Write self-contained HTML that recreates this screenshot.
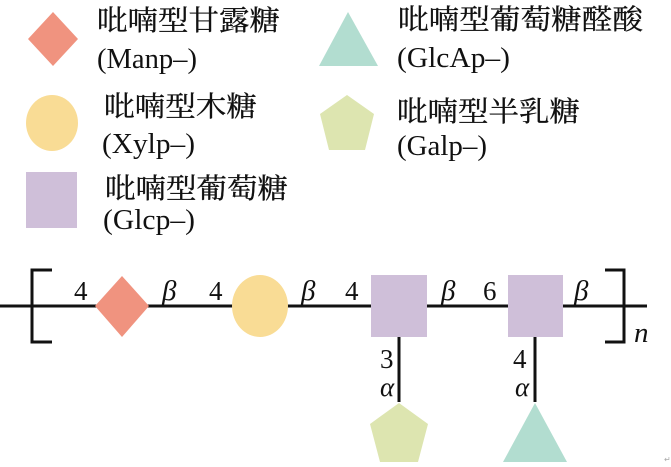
<!DOCTYPE html>
<html><head><meta charset="utf-8"><style>
html,body{margin:0;padding:0;background:#fff;}
svg{display:block;}
.cj{font-family:"Liberation Serif","Noto Serif CJK SC",serif;font-size:28px;fill:#111;stroke:#111;stroke-width:0.3px;}
.lt{font-family:"Liberation Serif",serif;font-size:28px;fill:#111;}
.lb{font-family:"Liberation Serif",serif;font-size:27px;fill:#111;}
.it{font-family:"Liberation Serif",serif;font-style:italic;font-size:29px;fill:#111;}
.al{font-family:"Liberation Serif",serif;font-style:italic;font-size:27px;fill:#111;}
</style></head><body>
<svg width="671" height="467" viewBox="0 0 671 467" xmlns="http://www.w3.org/2000/svg">
<!-- Legend shapes -->
<polygon points="53,12 78,39 53,66 28,39" fill="#f0937f"/>
<ellipse cx="52" cy="123" rx="26" ry="28" fill="#f9dc95"/>
<rect x="26" y="172" width="51" height="56" fill="#cfbfd9"/>
<polygon points="348,12 378,66 319,66" fill="#b2ddd0"/>
<polygon points="347,95 374,114 365,150 329,150 320,114" fill="#dde5b0"/>
<!-- Legend text -->
<text class="cj" x="97" y="30" textLength="183" lengthAdjust="spacingAndGlyphs">吡喃型甘露糖</text>
<text class="lt" x="97" y="68" textLength="100" lengthAdjust="spacingAndGlyphs">(Manp–)</text>
<text class="cj" x="104" y="116" textLength="153" lengthAdjust="spacingAndGlyphs">吡喃型木糖</text>
<text class="lt" x="102" y="153" textLength="93" lengthAdjust="spacingAndGlyphs">(Xylp–)</text>
<text class="cj" x="105" y="198" textLength="183" lengthAdjust="spacingAndGlyphs">吡喃型葡萄糖</text>
<text class="lt" x="103" y="229" textLength="92" lengthAdjust="spacingAndGlyphs">(Glcp–)</text>
<text class="cj" x="398" y="29" textLength="245" lengthAdjust="spacingAndGlyphs">吡喃型葡萄糖醛酸</text>
<text class="lt" x="397" y="67" textLength="113" lengthAdjust="spacingAndGlyphs">(GlcAp–)</text>
<text class="cj" x="397" y="121" textLength="183" lengthAdjust="spacingAndGlyphs">吡喃型半乳糖</text>
<text class="lt" x="397" y="155" textLength="90" lengthAdjust="spacingAndGlyphs">(Galp–)</text>
<!-- Main chain -->
<line x1="0" y1="306" x2="647" y2="306" stroke="#111" stroke-width="3"/>
<path d="M52,270 H32 V342 H52" fill="none" stroke="#111" stroke-width="3"/>
<path d="M605,270 H624 V342 H605" fill="none" stroke="#111" stroke-width="3"/>
<line x1="399" y1="337" x2="399" y2="402" stroke="#111" stroke-width="3"/>
<line x1="535" y1="337" x2="535" y2="402" stroke="#111" stroke-width="3"/>
<polygon points="122,276 149,306 122,337 95,306" fill="#f0937f"/>
<ellipse cx="260" cy="306" rx="28" ry="31" fill="#f9dc95"/>
<rect x="371" y="275" width="56" height="62" fill="#cfbfd9"/>
<rect x="508" y="275" width="55" height="62" fill="#cfbfd9"/>
<polygon points="399,403 428,424 418,462 380,462 370,424" fill="#dde5b0"/>
<polygon points="535,403 567,462 503,462" fill="#b2ddd0"/>
<!-- Chain labels -->
<text class="lb" x="74" y="300">4</text>
<text class="it" x="162" y="300">β</text>
<text class="lb" x="209" y="300">4</text>
<text class="it" x="301" y="300">β</text>
<text class="lb" x="345" y="300">4</text>
<text class="it" x="441" y="300">β</text>
<text class="lb" x="483" y="300">6</text>
<text class="it" x="574" y="300">β</text>
<text class="it" x="634" y="342">n</text>
<text class="lb" x="380" y="368">3</text>
<text class="al" x="380" y="396">α</text>
<text class="lb" x="513" y="368">4</text>
<text class="al" x="515" y="396">α</text>
<text x="664" y="462" font-family="Liberation Sans,sans-serif" font-size="8" fill="#aaa">↵</text>
</svg>
</body></html>
